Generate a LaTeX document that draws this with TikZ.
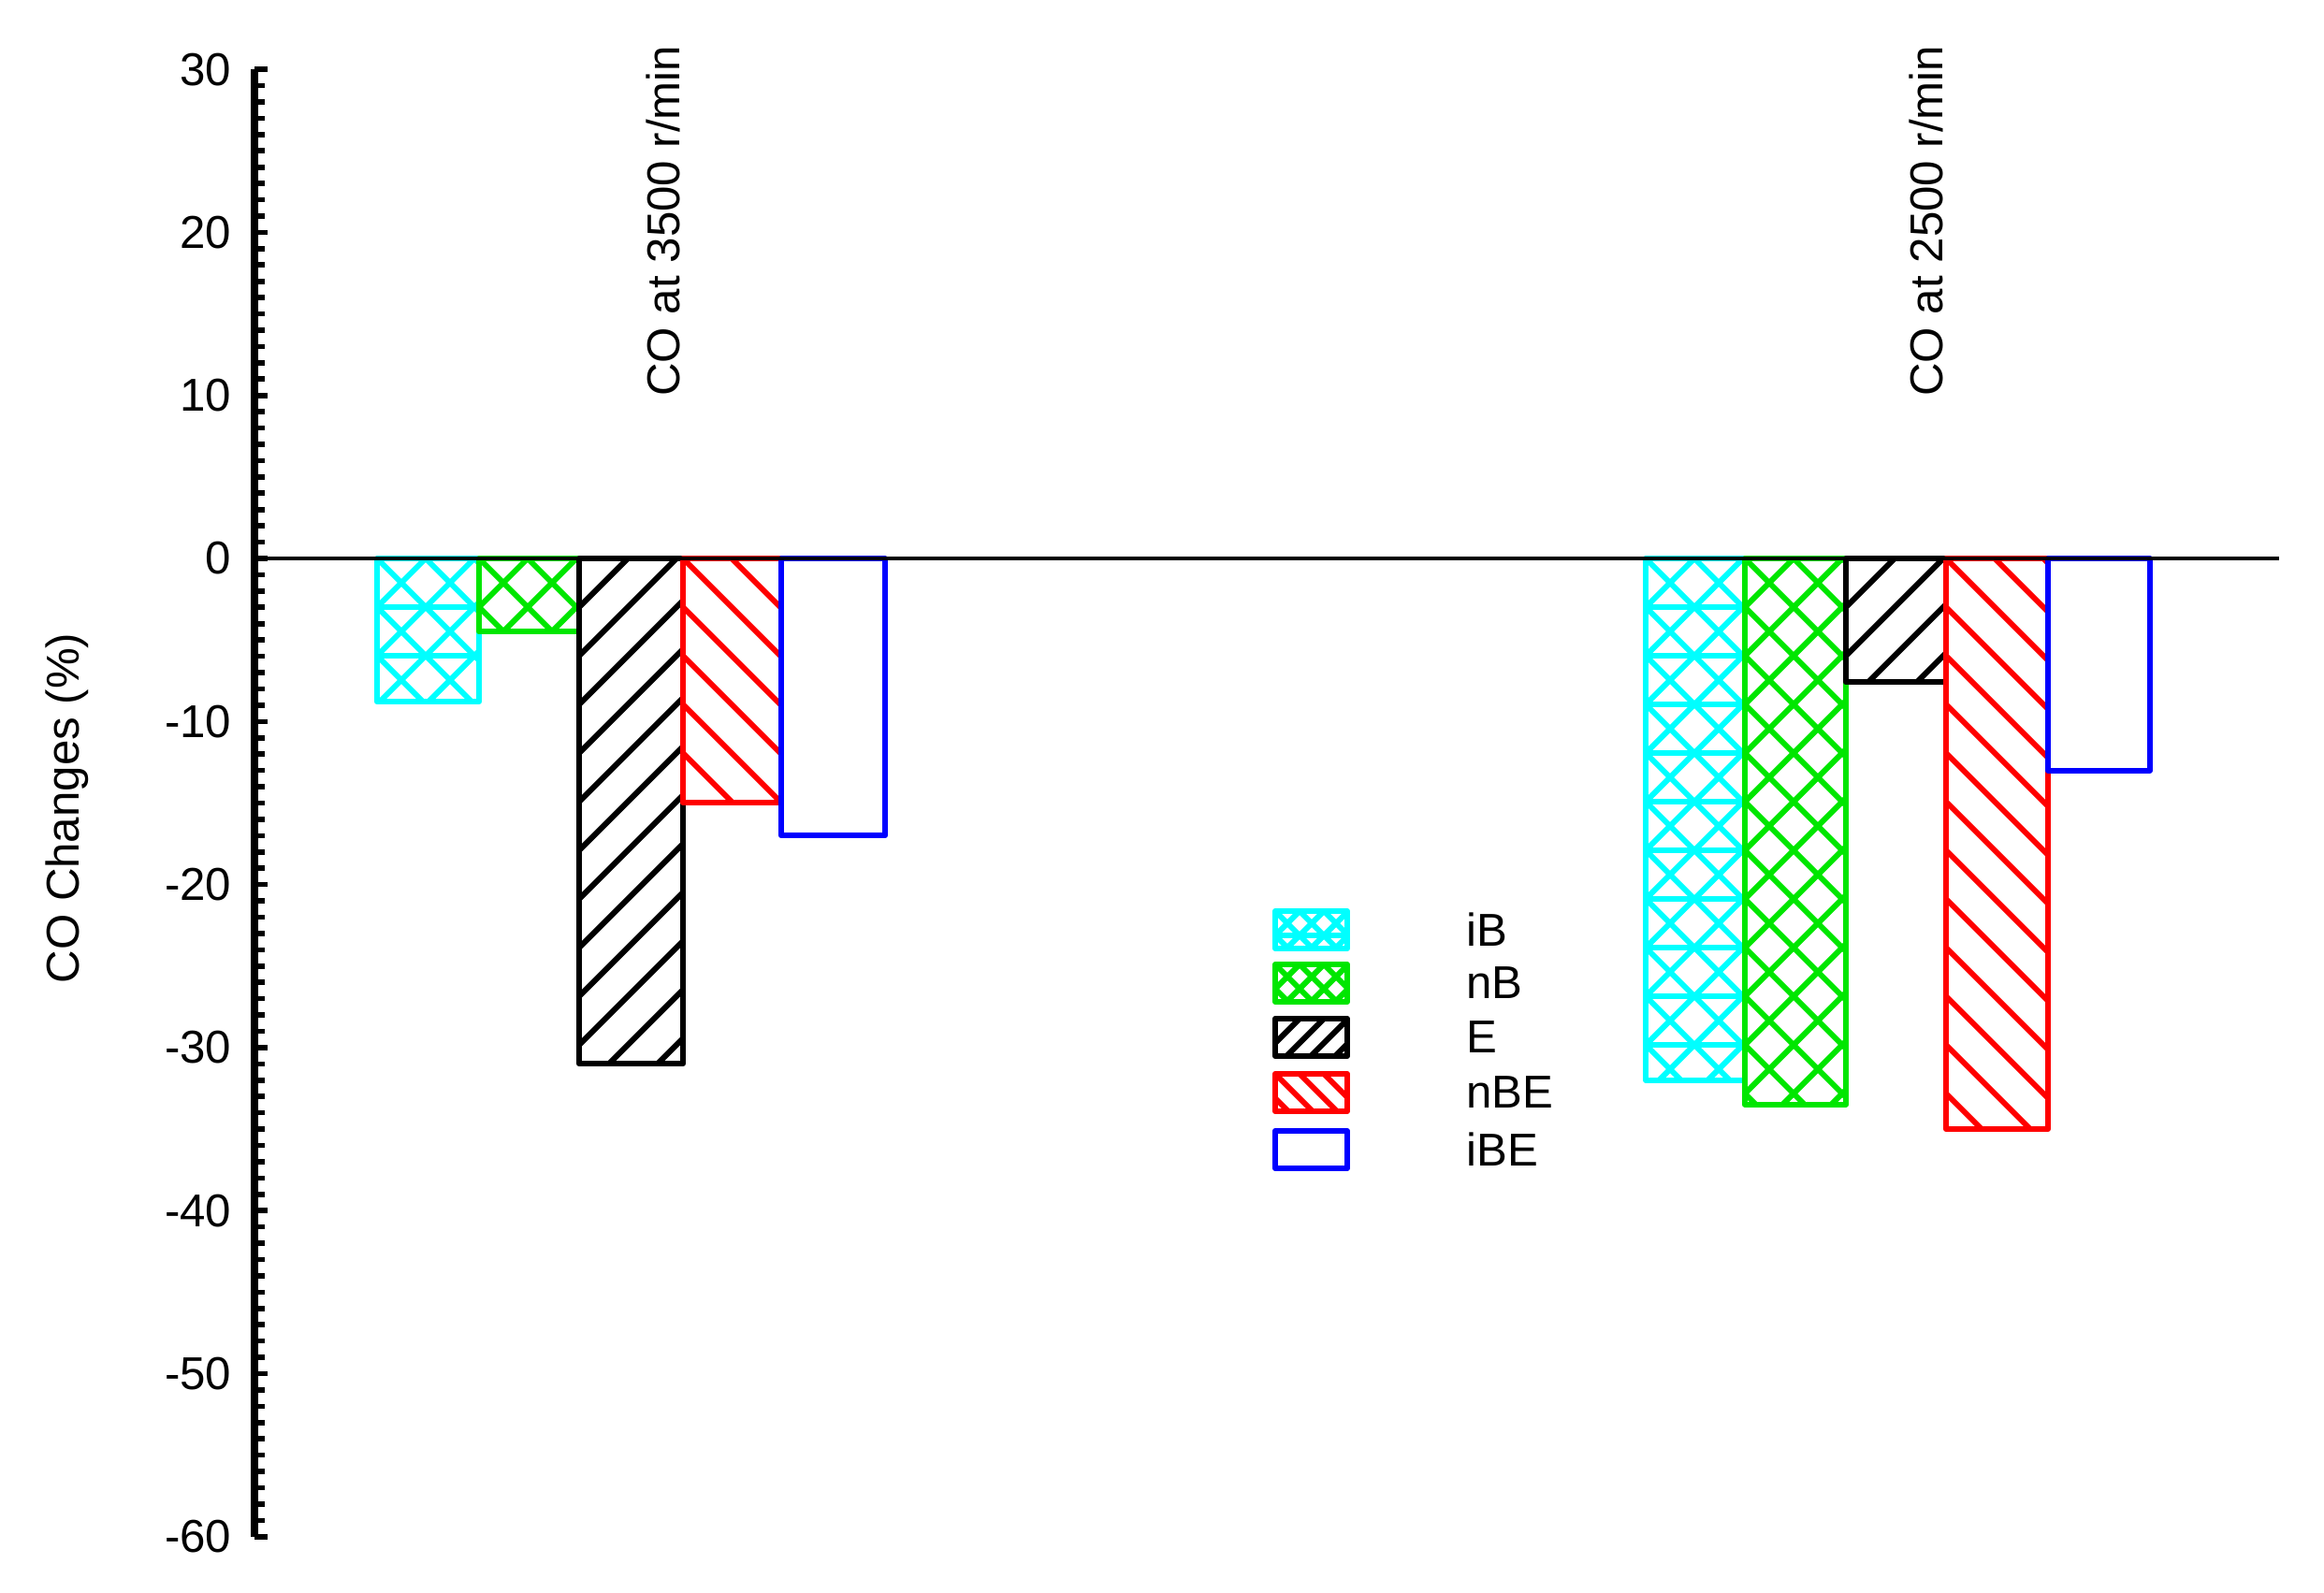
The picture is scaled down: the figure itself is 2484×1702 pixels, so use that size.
\documentclass[tikz,border=0pt]{standalone}
\usepackage{fontspec}
\setmainfont{Liberation Sans}
\definecolor{cy}{RGB}{0,255,255}
\definecolor{gr}{RGB}{0,230,0}
\definecolor{rd}{RGB}{255,0,0}
\definecolor{bl}{RGB}{0,0,255}
\newcommand\hatchbar[7]{% x0 x1 ytop ybot color type period
  \begin{scope}
  \clip (#1,#3) rectangle (#2,#4);
  \ifnum#6=1 \foreach \k in {-40,...,40}{\draw[#5,line width=1.7pt] ({#1+\k*#7},#3) -- ++(1200,1200);
     \draw[#5,line width=1.7pt] ({#1+\k*#7},#3) -- ++(-1200,1200);}\fi
  \ifnum#6=2 \foreach \k in {-40,...,40}{\draw[#5,line width=1.7pt] ({#1+\k*#7},#3) -- ++(1200,1200);
     \draw[#5,line width=1.7pt] ({#1+\k*#7},#3) -- ++(-1200,1200);
     \draw[#5,line width=1.7pt] (#1,{#3+(\k+40)*#7}) -- ++(3000,0);}\fi
  \ifnum#6=3 \foreach \k in {-40,...,40}{\draw[#5,line width=1.7pt] ({#1+\k*#7},#3) -- ++(-1200,1200);}\fi
  \ifnum#6=4 \foreach \k in {-40,...,40}{\draw[#5,line width=1.7pt] ({#1+\k*#7},#3) -- ++(1200,1200);}\fi
  \end{scope}
  \draw[#5,line width=1.7pt,line join=round] (#1,#3) rectangle (#2,#4);}
\begin{document}
\begin{tikzpicture}[x=0.01cm,y=-0.01cm,font=\fontsize{14pt}{16pt}\selectfont]
\useasboundingbox (0,0) rectangle (2484,1702);
\def\Z{597}\def\U{17.43}
% bars group 1
\hatchbar{403}{512}{\Z}{\Z+8.8*\U}{cy}{2}{52}
\hatchbar{512}{619}{\Z}{\Z+4.5*\U}{gr}{1}{52}
\hatchbar{619}{730}{\Z}{\Z+31*\U}{black}{3}{52}
\hatchbar{730}{835}{\Z}{\Z+15*\U}{rd}{4}{52}
\hatchbar{835}{946}{\Z}{\Z+17*\U}{bl}{0}{52}
% bars group 2
\hatchbar{1759}{1865}{\Z}{\Z+32*\U}{cy}{2}{52}
\hatchbar{1865}{1973}{\Z}{\Z+33.5*\U}{gr}{1}{52}
\hatchbar{1973}{2080}{\Z}{\Z+7.6*\U}{black}{3}{52}
\hatchbar{2080}{2189}{\Z}{\Z+35*\U}{rd}{4}{52}
\hatchbar{2189}{2298}{\Z}{\Z+13*\U}{bl}{0}{52}
% zero line and axis
\coordinate (z0) at (272,\Z); \coordinate (z1) at (2436,\Z);
\draw[line width=1.4pt] (z0) -- (z1);
\coordinate (a0) at (272,{\Z-30*\U}); \coordinate (a1) at (272,{\Z+60*\U});
\draw[line width=2.3pt] (a0) -- (a1);
\foreach \v in {-60,...,30}{\draw[line width=1.6pt] (272,{\Z-\v*\U}) -- ++(11,0);}
\foreach \v in {-60,-50,...,30}{\draw[line width=1.6pt] (272,{\Z-\v*\U}) -- ++(14,0);
  \node[anchor=east,inner sep=0pt] (t\v) at (248,{\Z-\v*\U}) {\v};}
\node[rotate=90] (yl) at (72,864) {CO Changes (\%)};
\node[rotate=90,anchor=east,inner sep=0pt] (l1) at (709,48) {CO at 3500 r/min};
\node[rotate=90,anchor=east,inner sep=0pt] (l2) at (2059,48) {CO at 2500 r/min};
% legend
\hatchbar{1363}{1440}{974}{1014}{cy}{2}{26}
\hatchbar{1363}{1440}{1031}{1071}{gr}{1}{26}
\hatchbar{1363}{1440}{1089}{1129}{black}{3}{26}
\hatchbar{1363}{1440}{1148}{1188}{rd}{4}{26}
\hatchbar{1363}{1440}{1209}{1249}{bl}{0}{26}
\node[anchor=west] (g1) at (1555,994) {iB};
\node[anchor=west] (g2) at (1555,1051) {nB};
\node[anchor=west] (g3) at (1555,1109) {E};
\node[anchor=west] (g4) at (1555,1168) {nBE};
\node[anchor=west] (g5) at (1555,1229) {iBE};
\end{tikzpicture}
\end{document}
